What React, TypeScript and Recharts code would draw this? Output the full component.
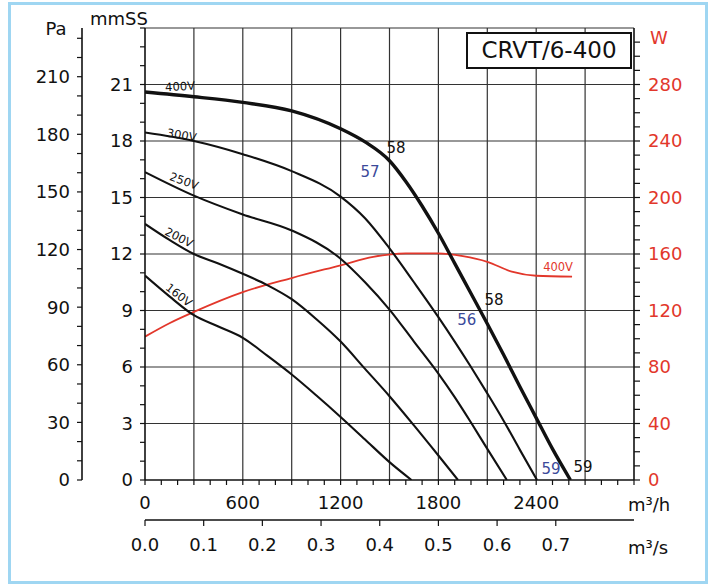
import { ComposedChart, Line, XAxis, YAxis, CartesianGrid, ReferenceDot, Label } from 'recharts';

// axis ticks (labelled)
const FLOW_TICKS = [0, 600, 1200, 1800, 2400];
const FLOW_SEC_TICKS = [0, 0.1, 0.2, 0.3, 0.4, 0.5, 0.6, 0.7];
const MM_TICKS = [0, 3, 6, 9, 12, 15, 18, 21];
const PA_TICKS = [0, 30, 60, 90, 120, 150, 180, 210];
const W_TICKS = [0, 40, 80, 120, 160, 200, 240, 280];

// grid
const FLOW_GRID = [300, 600, 900, 1200, 1500, 1800, 2100, 2400, 2700];
const MM_GRID = [3, 6, 9, 12, 15, 18, 21, 24];

// pressure curves, mmSS against m3/h
const Q_400 = [0, 300, 600, 900, 1200, 1350, 1500, 1600, 1700, 1800, 1900, 2000, 2100, 2200, 2300, 2400, 2500, 2610];
const P_400 = [20.6, 20.35, 20.05, 19.6, 18.65, 17.95, 16.95, 15.85, 14.55, 13.1, 11.5, 9.9, 8.3, 6.65, 4.95, 3.3, 1.65, 0];

const Q_300 = [0, 300, 600, 900, 1200, 1350, 1500, 1650, 1800, 1900, 2000, 2100, 2200, 2300, 2405];
const P_300 = [18.45, 18.0, 17.3, 16.4, 15.05, 13.9, 12.3, 10.5, 8.65, 7.35, 6.0, 4.6, 3.15, 1.6, 0];

const Q_250 = [0, 300, 600, 900, 1200, 1350, 1500, 1650, 1800, 1900, 2000, 2100, 2220];
const P_250 = [16.35, 15.1, 14.1, 13.25, 11.75, 10.5, 9.05, 7.35, 5.65, 4.4, 3.05, 1.65, 0];

const Q_200 = [0, 150, 300, 450, 600, 750, 900, 1050, 1200, 1350, 1500, 1650, 1800, 1920];
const P_200 = [13.6, 12.75, 12.0, 11.5, 10.95, 10.35, 9.6, 8.55, 7.35, 5.9, 4.45, 2.9, 1.3, 0];

const Q_160 = [0, 150, 300, 450, 600, 750, 900, 1050, 1200, 1350, 1500, 1635];
const P_160 = [10.85, 9.75, 8.75, 8.15, 7.55, 6.6, 5.6, 4.5, 3.35, 2.15, 0.95, 0];

// power curve at 400V, W against m3/h
const Q_W = [0, 150, 300, 600, 900, 1200, 1400, 1600, 1800, 1950, 2100, 2250, 2400, 2620];
const W_400 = [101.5, 111, 119, 133, 143, 152, 158, 160.5, 160.5, 158.5, 154.5, 147.5, 144.6, 144];

// m3/s scale end (3000 m3/h)
const SEC_RANGE = [0, 0.8333];

const FONT = '"DejaVu Sans", Arial, sans-serif';
const INK = '#111';
const RED = '#e2372b';
const BLUE = '#3b4a9a';

const zip = (q: number[], v: number[]) => q.map((x, i) => ({ q: x, v: v[i] }));

const steps = (max: number, step: number) =>
  Array.from({ length: Math.round(max / step) + 1 }, (_, i) => +(i * step).toFixed(4));

const curves = [
  { name: '400V', data: zip(Q_400, P_400), width: 3.4 },
  { name: '300V', data: zip(Q_300, P_300), width: 2.1 },
  { name: '250V', data: zip(Q_250, P_250), width: 2.1 },
  { name: '200V', data: zip(Q_200, P_200), width: 2.1 },
  { name: '160V', data: zip(Q_160, P_160), width: 2.1 },
];

// curve captions: [text, q, value, angle, color, size, axis]
const notes: [string, number, number, number, string, number, string][] = [
  ['400V', 215, 20.9, -3, INK, 11.5, 'mm'],
  ['300V', 225, 18.32, 10, INK, 11.5, 'mm'],
  ['250V', 240, 15.88, 20, INK, 11.5, 'mm'],
  ['200V', 209, 12.88, 27, INK, 11.5, 'mm'],
  ['160V', 209, 9.82, 38, INK, 11.5, 'mm'],
  ['58', 1540, 17.63, 0, INK, 15, 'mm'],
  ['57', 1380, 16.36, 0, BLUE, 15, 'mm'],
  ['58', 2141, 9.56, 0, INK, 15, 'mm'],
  ['56', 1974, 8.5, 0, BLUE, 15, 'mm'],
  ['59', 2491, 0.6, 0, BLUE, 15, 'mm'],
  ['59', 2687, 0.7, 0, INK, 15, 'mm'],
  ['400V', 2534, 151, 0, RED, 11.5, 'w'],
];

const has = (list: number[], v: number) => list.some((l) => Math.abs(l - v) < 1e-6);

const makeTick =
  (labels: number[], side: 'left' | 'right' | 'bottom', color: string, fmt = (v: number) => String(v)) =>
  (props: any) => {
    const { x, y, payload } = props;
    const v = Number(payload.value);
    if (!has(labels, v)) return <g />;
    const anchor = side === 'left' ? 'end' : side === 'right' ? 'start' : 'middle';
    return (
      <text
        x={x}
        y={y}
        dy={side === 'bottom' ? '0.74em' : '0.36em'}
        textAnchor={anchor}
        fill={color}
        fontSize={18}
        fontFamily={FONT}
      >
        {fmt(v)}
      </text>
    );
  };

const axisTitle =
  (text: string, color: string, dx: (vb: any) => number, dy: (vb: any) => number, anchor = 'middle') =>
  (props: any) => {
    const vb = props.viewBox || {};
    return (
      <text x={dx(vb)} y={dy(vb)} textAnchor={anchor} fill={color} fontSize={18} fontFamily={FONT}>
        {text}
      </text>
    );
  };

export default function App() {
  return (
    <div style={{ position: 'absolute', left: 0, top: 0, width: 720, height: 585, background: '#fff' }}>
      <div
        style={{
          position: 'absolute',
          left: 8,
          top: 2,
          width: 700,
          height: 582,
          border: '3px solid #9fd6f2',
          boxSizing: 'border-box',
        }}
      />
      <div style={{ position: 'absolute', left: 0, top: 0 }}>
        <ComposedChart width={720} height={585} margin={{ top: 28, right: 0, bottom: 0, left: 0 }}>
          <CartesianGrid
            xAxisId="h"
            yAxisId="mm"
            horizontalValues={MM_GRID}
            verticalValues={FLOW_GRID}
            stroke="#333"
            strokeWidth={1.2}
          />
          <XAxis
            xAxisId="h"
            type="number"
            dataKey="q"
            domain={[0, 3000]}
            ticks={steps(3000, 100)}
            interval={0}
            allowDataOverflow
            height={40}
            tickSize={5}
            tickMargin={11}
            axisLine={{ stroke: INK, strokeWidth: 1.6 }}
            tickLine={{ stroke: INK, strokeWidth: 1.2 }}
            tick={makeTick(FLOW_TICKS, 'bottom', INK)}
          >
            <Label
              content={axisTitle('m³/h', INK, (vb) => vb.x + vb.width - 6, (vb) => vb.y + 31, 'start')}
            />
          </XAxis>
          <XAxis
            xAxisId="s"
            type="number"
            dataKey="s"
            domain={SEC_RANGE}
            ticks={FLOW_SEC_TICKS}
            interval={0}
            allowDataOverflow
            height={65}
            tickSize={6}
            tickMargin={12}
            axisLine={{ stroke: INK, strokeWidth: 1.6 }}
            tickLine={{ stroke: INK, strokeWidth: 1.2 }}
            tick={makeTick(FLOW_SEC_TICKS, 'bottom', INK, (v) => v.toFixed(1))}
          >
            <Label
              content={axisTitle('m³/s', INK, (vb) => vb.x + vb.width - 6, (vb) => vb.y + 34, 'start')}
            />
          </XAxis>
          <YAxis
            yAxisId="mm"
            type="number"
            domain={[0, 24]}
            ticks={steps(24, 1)}
            interval={0}
            allowDataOverflow
            width={63}
            tickSize={5}
            tickMargin={7}
            axisLine={{ stroke: INK, strokeWidth: 1.6 }}
            tickLine={{ stroke: INK, strokeWidth: 1.2 }}
            tick={makeTick(MM_TICKS, 'left', INK)}
          >
            <Label content={axisTitle('mmSS', INK, (vb) => vb.x + 8, (vb) => vb.y - 3, 'start')} />
          </YAxis>
          <YAxis
            yAxisId="pa"
            type="number"
            domain={[0, 235.36]}
            ticks={steps(230, 10)}
            interval={0}
            allowDataOverflow
            width={82}
            tickSize={5}
            tickMargin={7}
            axisLine={{ stroke: INK, strokeWidth: 1.6 }}
            tickLine={{ stroke: INK, strokeWidth: 1.2 }}
            tick={makeTick(PA_TICKS, 'left', INK)}
          >
            <Label content={axisTitle('Pa', INK, (vb) => vb.x + vb.width - 26, (vb) => vb.y + 7)} />
          </YAxis>
          <YAxis
            yAxisId="w"
            orientation="right"
            type="number"
            domain={[0, 320]}
            ticks={steps(310, 10)}
            interval={0}
            allowDataOverflow
            width={86}
            tickSize={6}
            tickMargin={8}
            axisLine={{ stroke: INK, strokeWidth: 1.6 }}
            tickLine={{ stroke: INK, strokeWidth: 1.2 }}
            tick={makeTick(W_TICKS, 'right', RED)}
          >
            <Label content={axisTitle('W', RED, (vb) => vb.x + 25, (vb) => vb.y + 16)} />
          </YAxis>

          {/* invisible carrier so the m3/s scale gets its ticks */}
          <Line
            xAxisId="s"
            yAxisId="pa"
            data={SEC_RANGE.map((s) => ({ s, v: 0 }))}
            dataKey="v"
            stroke="none"
            dot={false}
            activeDot={false}
            legendType="none"
            isAnimationActive={false}
          />
          <Line
            xAxisId="h"
            yAxisId="w"
            data={zip(Q_W, W_400)}
            dataKey="v"
            type="monotone"
            stroke={RED}
            strokeWidth={1.8}
            dot={false}
            activeDot={false}
            isAnimationActive={false}
          />
          {curves.map((c) => (
            <Line
              key={c.name}
              xAxisId="h"
              yAxisId="mm"
              data={c.data}
              dataKey="v"
              type="monotone"
              stroke={INK}
              strokeWidth={c.width}
              dot={false}
              activeDot={false}
              isAnimationActive={false}
            />
          ))}
          {notes.map(([text, q, v, angle, color, size, axis], i) => (
            <ReferenceDot
              key={i}
              xAxisId="h"
              yAxisId={axis}
              x={q}
              y={v}
              r={0}
              fill="none"
              stroke="none"
              label={{ value: text, position: 'center', angle, fill: color, fontSize: size, fontFamily: FONT }}
            />
          ))}
        </ComposedChart>
      </div>
      <div
        style={{
          position: 'absolute',
          left: 466,
          top: 32,
          width: 166,
          height: 37,
          border: '2px solid #111',
          boxSizing: 'border-box',
          background: '#fff',
          fontFamily: FONT,
          fontSize: 23,
          lineHeight: '33px',
          textAlign: 'center',
          color: '#111',
        }}
      >
        CRVT/6-400
      </div>
    </div>
  );
}
